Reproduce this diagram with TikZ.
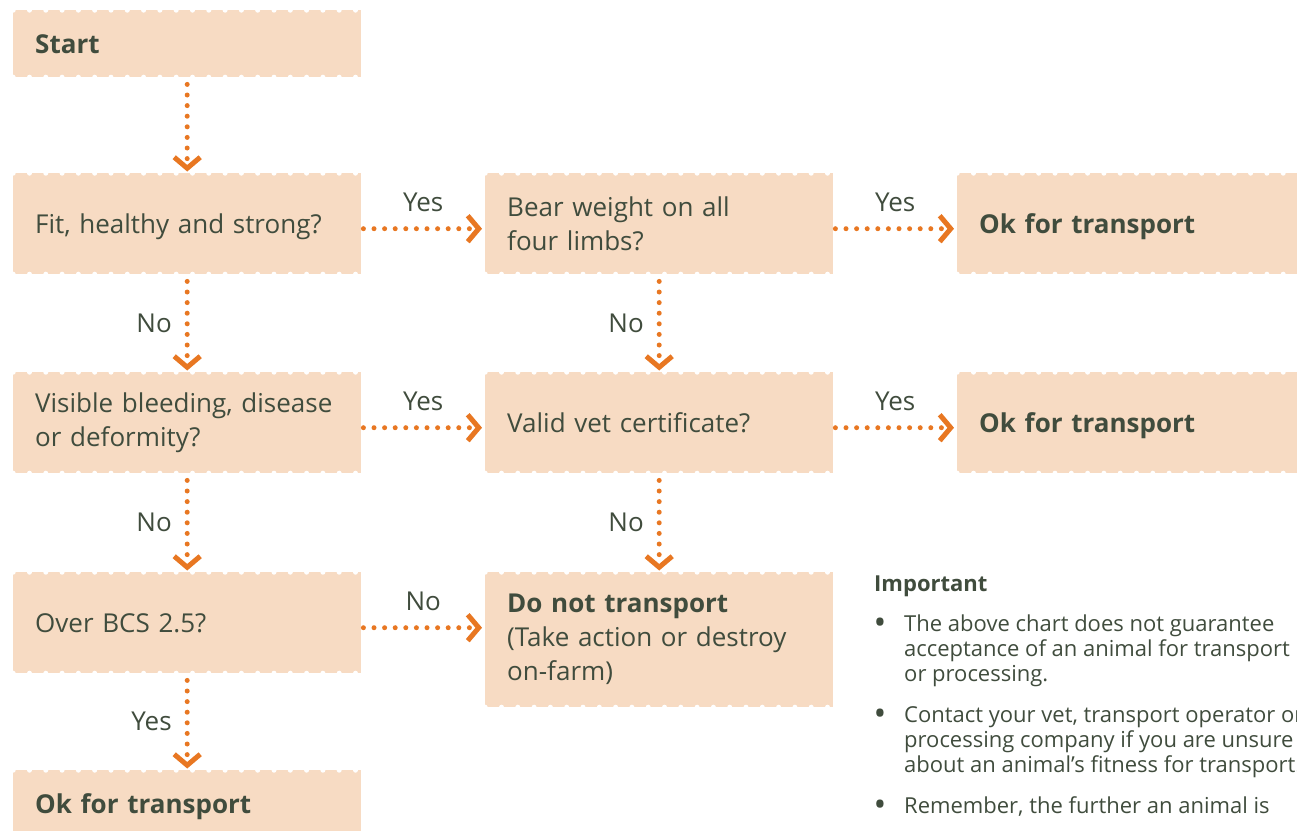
\documentclass[tikz,border=0pt]{standalone}
\usepackage{fontspec}
\setmainfont{Open Sans}
\usepackage{tikz}
\usetikzlibrary{arrows.meta}
\definecolor{boxfill}{RGB}{247,219,195}
\definecolor{ink}{RGB}{64,76,61}
\definecolor{flowc}{RGB}{232,119,34}

\begin{document}
\begin{tikzpicture}[x=1pt, y=-1pt, text=ink, font=\fontsize{26}{34}\selectfont,
	box/.style = {fill=boxfill, anchor=north west, minimum width=348pt, minimum height=101pt, text width=304pt, inner xsep=22pt, inner ysep=0pt, align=left,
		path picture={\draw[white, line width=5pt, line cap=round, dash pattern=on 0pt off 16.3pt] (path picture bounding box.north west) -- (path picture bounding box.north east) (path picture bounding box.south west) -- (path picture bounding box.south east);}},
	oneline/.style = {text depth=0pt},
	flow/.style = {draw=flowc, line width=5pt, line cap=round, dash pattern=on 0pt off 10.6pt, -{Straight Barb[length=11pt, width=26pt, line width=5pt]}},
	lbl/.style = {inner sep=0pt, font=\fontsize{26}{30}\selectfont},
	note/.style = {inner sep=0pt, align=left, font=\fontsize{22}{25}\selectfont},
	dot/.style = {inner sep=0pt, anchor=base, font=\fontsize{34}{34}\selectfont}]
	\useasboundingbox (0, 0) rectangle (1297, 830);
	\clip (0, 0) rectangle (1297, 830);

	\node [box, oneline, minimum height=67pt] (start) at (13, 10) {\textbf{Start}};
	\node [box, oneline] (fit) at (13, 173) {Fit, healthy and strong?};
	\node [box] (bear) at (485, 173) {Bear weight on all\\four limbs?};
	\node [box, oneline] (ok1) at (957, 173) {\textbf{Ok for transport}};
	\node [box] (bleed) at (13, 372) {Visible bleeding, disease\\or deformity?};
	\node [box, oneline] (vet) at (485, 372) {Valid vet certificate?};
	\node [box, oneline] (ok2) at (957, 372) {\textbf{Ok for transport}};
	\node [box, oneline] (bcs) at (13, 572) {Over BCS 2.5?};
	\node [box, minimum height=135pt] (dnt) at (485, 572) {\textbf{Do not transport}\\(Take action or destroy\\on-farm)};
	\node [box, oneline, minimum height=67pt] (ok3) at (13, 770) {\textbf{Ok for transport}};

	% important notes
	\node [note, anchor=base west] (imp) at (874, 591) {\textbf{Important}};
	\node [dot] (dot1) at (880, 634) {•};
	\node [note, anchor=base west] (n1) at (904, 681) {The above chart does not guarantee\\acceptance of an animal for transport\\or processing.};
	\node [dot] (dot2) at (880, 725) {•};
	\node [note, anchor=base west] (n2) at (904, 772) {Contact your vet, transport operator or\\processing company if you are unsure\\about an animal’s fitness for transport.};
	\node [dot] (dot3) at (880, 816) {•};
	\node [note, anchor=base west] (n3) at (904, 813) {Remember, the further an animal is};

	\draw[flow, shorten <=7pt, shorten >=1.5pt] (start.south) --  (fit.north);
	\draw[flow, shorten <=7pt, shorten >=1.5pt] (fit.south) --  (bleed.north) node[lbl, midway, left=13pt] {No};
	\draw[flow, shorten <=7pt, shorten >=1.5pt] (bleed.south) --  (bcs.north) node[lbl, midway, left=13pt] {No};
	\draw[flow, shorten <=7pt, shorten >=1.5pt] (bcs.south) --  (ok3.north) node[lbl, midway, left=13pt] {Yes};
	\draw[flow, shorten <=7pt, shorten >=1.5pt] (bear.south) --  (vet.north) node[lbl, midway, left=13pt] {No};
	\draw[flow, shorten <=7pt, shorten >=1.5pt] (vet.south) --  (dnt.north) node[lbl, midway, left=13pt] {No};
	\draw[flow, shorten <=2pt, shorten >=3pt] ([yshift=-5pt]fit.east) --  ([yshift=-5pt]bear.west) node[lbl, midway, above=14pt] {Yes};
	\draw[flow, shorten <=2pt, shorten >=3pt] ([yshift=-5pt]bear.east) --  ([yshift=-5pt]ok1.west) node[lbl, midway, above=14pt] {Yes};
	\draw[flow, shorten <=2pt, shorten >=3pt] ([yshift=-5pt]bleed.east) --  ([yshift=-5pt]vet.west) node[lbl, midway, above=14pt] {Yes};
	\draw[flow, shorten <=2pt, shorten >=3pt] ([yshift=-5pt]vet.east) --  ([yshift=-5pt]ok2.west) node[lbl, midway, above=14pt] {Yes};
	\draw[flow, shorten <=2pt, shorten >=3pt] ([yshift=-5pt]bcs.east) --  ([yshift=-5pt]bcs.east -| dnt.west) node[lbl, midway, above=14pt] {No};
\end{tikzpicture}
\end{document}
